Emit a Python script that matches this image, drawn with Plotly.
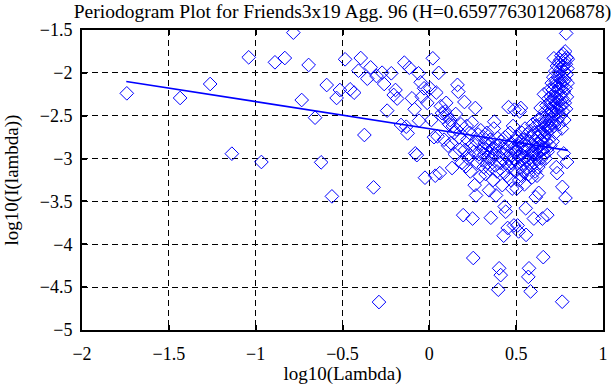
import plotly.graph_objects as go

# log10(Lambda), log10(I(lambda)), by x range
pts_left = [(-1.742,-2.239),(-1.435,-2.293),(-1.262,-2.130),(-1.137,-2.943),(-1.040,-1.819),
    (-0.967,-3.040),(-0.889,-1.877),(-0.832,-1.827),(-0.783,-1.531),(-0.735,-2.317),
    (-0.695,-1.908),(-0.658,-2.523),(-0.623,-3.044),(-0.591,-2.142),(-0.561,-3.441),
    (-0.534,-2.293),(-0.515,-2.200),(-0.485,-1.842),(-0.456,-2.192),(-0.433,-2.231),
    (-0.408,-1.975),(-0.395,-1.827),(-0.374,-2.725),(-0.357,-2.068),(-0.338,-1.936),
    (-0.321,-3.336),(-0.304,-2.037),(-0.290,-4.674),(-0.272,-1.998),(-0.260,-2.130),
    (-0.243,-2.441),(-0.219,-2.005),(-0.205,-2.258),(-0.195,-2.200),(-0.185,-2.300),
    (-0.163,-2.608),(-0.144,-1.881),(-0.133,-2.628),(-0.125,-2.706),(-0.115,-1.940),
    (-0.100,-2.297),(-0.085,-2.425),(-0.081,-2.939),(-0.072,-2.960),(-0.062,-2.005),
    (-0.059,-2.558),(-0.050,-2.110),(-0.043,-2.278),(-0.030,-2.180),(-0.025,-3.223),
    (-0.012,-2.350)]

pts_0_02 = [(0.005,-2.18),(0.012,-2.55),(0.020,-1.83),(0.027,-2.75),(0.034,-3.20),
    (0.040,-2.23),(0.047,-2.74),(0.054,-2.00),(0.060,-3.17),(0.066,-2.39),(0.073,-2.47),
    (0.079,-2.52),(0.085,-2.78),(0.091,-2.45),(0.097,-2.35),
    (0.103,-2.50),(0.108,-2.85),(0.114,-2.60),(0.120,-2.55),(0.125,-2.82),(0.131,-3.11),
    (0.136,-2.62),(0.142,-2.70),(0.147,-2.95),(0.152,-2.48),(0.157,-2.66),(0.162,-2.14),
    (0.167,-2.22),(0.172,-2.75),(0.177,-2.90),(0.182,-2.60),(0.187,-3.05),(0.195,-3.66)]

pts_02_04 = [(0.202,-2.34),(0.206,-2.90),(0.211,-3.09),(0.215,-2.62),(0.219,-2.78),
    (0.224,-3.00),(0.228,-2.95),(0.232,-2.70),(0.236,-3.15),(0.241,-2.85),(0.245,-2.58),
    (0.249,-3.70),(0.253,-4.16),(0.257,-2.92),(0.261,-3.31),(0.265,-2.41),(0.269,-3.43),
    (0.273,-2.80),(0.277,-3.05),(0.281,-2.72),(0.286,-2.95),(0.291,-3.21),(0.296,-2.67),
    (0.303,-2.88),(0.306,-3.02),(0.310,-2.75),(0.313,-3.10),(0.317,-2.95),(0.320,-2.82),
    (0.324,-3.18),(0.327,-2.90),(0.331,-2.70),(0.334,-3.05),(0.338,-2.98),(0.341,-2.85),
    (0.344,-3.37),(0.348,-3.12),(0.351,-2.78),(0.354,-3.69),(0.358,-2.92),(0.361,-3.00),
    (0.364,-2.88),(0.367,-3.25),(0.371,-2.65),(0.374,-2.57),(0.377,-2.95),(0.380,-3.08),
    (0.384,-3.43),(0.387,-2.85),(0.390,-3.15),(0.393,-2.76),(0.397,-4.53)]

pts_04_06 = [(0.402,-4.28),(0.405,-2.92),(0.408,-3.05),(0.411,-4.36),(0.414,-2.80),
    (0.417,-3.00),(0.420,-3.31),(0.422,-2.88),(0.425,-3.15),(0.428,-3.90),(0.431,-2.95),
    (0.434,-3.56),(0.437,-2.75),(0.440,-3.62),(0.442,-3.05),(0.445,-2.90),(0.448,-3.20),
    (0.451,-3.81),(0.453,-2.85),(0.456,-2.40),(0.459,-3.00),(0.461,-3.10),(0.464,-2.70),
    (0.467,-2.95),(0.469,-3.25),(0.472,-2.82),(0.475,-3.05),(0.477,-3.35),(0.480,-2.88),
    (0.482,-2.62),(0.485,-3.00),(0.487,-3.78),(0.490,-2.43),(0.493,-2.92),(0.495,-3.15),
    (0.498,-2.78),
    (0.501,-2.90),(0.503,-3.35),(0.505,-2.75),(0.508,-3.78),(0.510,-3.05),(0.512,-2.85),
    (0.514,-3.85),(0.516,-2.98),(0.518,-3.25),(0.520,-2.45),(0.523,-2.80),(0.525,-3.10),
    (0.527,-2.41),(0.529,-2.95),(0.531,-3.20),(0.533,-2.70),(0.535,-3.00),(0.538,-2.88),
    (0.540,-3.15),(0.542,-2.78),(0.544,-3.05),(0.546,-2.92),(0.548,-3.30),(0.551,-2.65),
    (0.553,-2.98),(0.555,-3.58),(0.557,-3.89),(0.559,-2.85),(0.561,-3.12),(0.563,-2.72),
    (0.566,-3.02),(0.568,-2.90),(0.570,-4.38),(0.572,-3.18),(0.574,-4.28),(0.576,-2.80),
    (0.578,-3.00),(0.580,-2.68),(0.583,-4.55),(0.585,-3.08),(0.587,-2.92),(0.589,-2.75),
    (0.591,-3.22),(0.594,-2.60),(0.596,-2.95)]

pts_06_07 = [(0.600,-2.85),(0.602,-3.70),(0.604,-3.05),(0.605,-2.70),(0.607,-2.95),
    (0.609,-3.15),(0.611,-2.80),(0.613,-3.45),(0.614,-2.62),(0.616,-3.00),(0.618,-2.88),
    (0.620,-3.20),(0.621,-2.75),(0.623,-2.95),(0.625,-2.55),(0.627,-3.10),(0.628,-2.82),
    (0.630,-3.40),(0.632,-2.68),(0.634,-2.92),(0.635,-3.05),(0.637,-2.60),(0.639,-2.85),
    (0.641,-2.41),(0.642,-2.78),(0.644,-3.00),(0.646,-2.70),(0.648,-2.90),(0.649,-2.52),
    (0.651,-3.70),(0.653,-2.82),(0.655,-2.65),(0.656,-4.15),(0.658,-2.95),(0.660,-2.25),
    (0.662,-2.75),(0.663,-2.58),(0.665,-2.88),(0.667,-2.45),(0.669,-3.00),(0.670,-2.62),
    (0.672,-2.80),(0.674,-2.38),(0.676,-2.70),(0.677,-2.55),(0.679,-3.66),(0.681,-2.92),
    (0.683,-2.48),(0.684,-2.65),(0.686,-2.30),(0.688,-2.78),(0.690,-2.50),(0.691,-2.20),
    (0.693,-2.62),(0.695,-2.42),(0.697,-2.85),(0.698,-2.35),(0.700,-2.55)]

pts_07_08 = [(0.701,-2.28),(0.702,-2.65),(0.704,-2.45),(0.705,-2.12),(0.707,-2.58),
    (0.708,-2.35),(0.710,-2.80),(0.711,-2.20),(0.713,-2.50),(0.714,-2.05),(0.716,-2.40),
    (0.717,-1.83),(0.719,-2.62),(0.720,-2.28),(0.722,-2.15),(0.723,-2.48),(0.725,-1.98),
    (0.726,-2.70),(0.728,-2.35),(0.729,-2.10),(0.731,-3.10),(0.732,-2.42),(0.734,-2.22),
    (0.735,-1.92),(0.736,-3.17),(0.738,-2.55),(0.739,-2.30),(0.741,-2.05),(0.742,-2.45),
    (0.744,-2.18),(0.745,-1.88),(0.747,-2.60),(0.748,-2.32),(0.749,-2.00),(0.751,-2.40),
    (0.752,-2.12),(0.754,-1.85),(0.755,-2.50),(0.756,-2.25),(0.758,-1.95),(0.759,-2.38),
    (0.760,-1.80),(0.762,-2.15),(0.763,-2.65),(0.764,-2.05),(0.765,-4.67),(0.766,-3.33),
    (0.767,-2.30),(0.769,-1.92),(0.770,-2.45),(0.771,-2.10),(0.772,-1.78),(0.774,-2.94),
    (0.775,-2.22),(0.776,-1.98),(0.777,-2.55),(0.779,-1.85),(0.780,-2.35),(0.781,-2.08),
    (0.782,-1.75),(0.784,-3.46),(0.785,-2.18),(0.786,-1.90),(0.787,-2.42),(0.788,-1.54),
    (0.790,-2.02),(0.791,-1.82),(0.792,-2.28),(0.793,-3.04),(0.795,-1.95),(0.796,-2.12),
    (0.797,-1.84)]

# least-squares fit line end points
fit_x = [-1.745, 0.798]
fit_y = [-2.100, -2.904]

title_text = "Periodogram Plot for Friends3x19 Agg. 96 (H=0.659776301206878)"
x_label = "log10(Lambda)"
y_label = "log10(I(lambda))"

all_pts = pts_left + pts_0_02 + pts_02_04 + pts_04_06 + pts_06_07 + pts_07_08
xs = [p[0] for p in all_pts]
ys = [p[1] for p in all_pts]

SERIF = "Liberation Serif, Times New Roman, serif"

fig = go.Figure()
fig.add_trace(go.Scatter(
    x=xs, y=ys, mode="markers",
    marker=dict(symbol="diamond-open", size=10.5, color="#0000ff",
                line=dict(width=1, color="#0000ff")),
    showlegend=False, hoverinfo="skip"))
fig.add_trace(go.Scatter(
    x=fit_x, y=fit_y, mode="lines",
    line=dict(color="#0000ff", width=1.6),
    showlegend=False, hoverinfo="skip"))

axis_common = dict(
    showline=True, linecolor="black", linewidth=2, mirror="ticks",
    ticks="inside", ticklen=5, tickwidth=2, tickcolor="black",
    showgrid=True, gridcolor="black", gridwidth=1, griddash="6px,4px",
    zeroline=False, dtick=0.5,
    tickfont=dict(family=SERIF, size=18, color="black"),
)

fig.update_xaxes(range=[-2, 1], tick0=-2, ticklabelstandoff=6,
                 title=dict(text=x_label, font=dict(family=SERIF, size=19, color="black"),
                            standoff=5),
                 **axis_common)
fig.update_yaxes(range=[-5, -1.5], tick0=-5, ticklabelstandoff=4,
                 title=dict(text=y_label, font=dict(family=SERIF, size=19, color="black"),
                            standoff=16),
                 **axis_common)

fig.update_layout(
    width=611, height=385,
    margin=dict(l=82, r=3, t=30, b=55),
    paper_bgcolor="white", plot_bgcolor="white",
    title=dict(text=title_text, x=0.5, xref="paper", xanchor="center",
               y=0.988, yref="container", yanchor="top",
               font=dict(family=SERIF, size=19.5, color="black")),
)

fig.write_html("out.html", config={"displayModeBar": False},
               post_script="document.body.style.margin='0';document.body.style.padding='0';")
